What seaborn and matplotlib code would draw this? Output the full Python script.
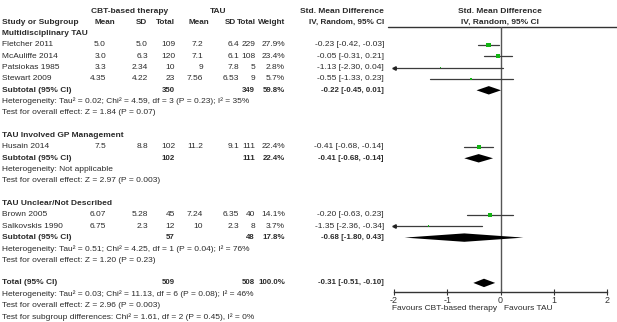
import matplotlib
matplotlib.use("Agg")
import numpy as np
import pandas as pd
import matplotlib.pyplot as plt
import seaborn as sns

# ---- data ----
studies = ["Fletcher 2011", "McAuliffe 2014", "Patsiokas 1985", "Stewart 2009",
           "Husain 2014", "Brown 2005", "Salkovskis 1990"]
study_group = [0, 0, 0, 0, 1, 2, 2]
cbt_mean = ["5.0", "3.0", "3.3", "4.35", "7.5", "6.07", "6.75"]
cbt_sd = ["5.0", "6.3", "2.34", "4.22", "8.8", "5.28", "2.3"]
cbt_n = [109, 120, 10, 23, 102, 45, 12]
tau_mean = ["7.2", "7.1", "9", "7.56", "11.2", "7.24", "10"]
tau_sd = ["6.4", "6.1", "7.8", "6.53", "9.1", "6.35", "2.3"]
tau_n = [229, 108, 5, 9, 111, 40, 8]
weight = [27.9, 23.4, 2.8, 5.7, 22.4, 14.1, 3.7]
smd = [-0.23, -0.05, -1.13, -0.55, -0.41, -0.20, -1.35]
smd_lo = [-0.42, -0.31, -2.30, -1.33, -0.68, -0.63, -2.36]
smd_hi = [-0.03, 0.21, 0.04, 0.23, -0.14, 0.23, -0.34]

groups = ["Multidisciplinary TAU", "TAU Involved GP Management", "TAU Unclear/Not Described"]
grp_cbt_n = [350, 102, 57]
grp_tau_n = [349, 111, 48]
grp_weight = [59.8, 22.4, 17.8]
grp_smd = [-0.22, -0.41, -0.68]
grp_lo = [-0.45, -0.68, -1.80]
grp_hi = [0.01, -0.14, 0.43]
grp_het = ["Heterogeneity: Tau\u00b2 = 0.02; Chi\u00b2 = 4.59, df = 3 (P = 0.23); I\u00b2 = 35%",
           "Heterogeneity: Not applicable",
           "Heterogeneity: Tau\u00b2 = 0.51; Chi\u00b2 = 4.25, df = 1 (P = 0.04); I\u00b2 = 76%"]
grp_test = ["Test for overall effect: Z = 1.84 (P = 0.07)",
            "Test for overall effect: Z = 2.97 (P = 0.003)",
            "Test for overall effect: Z = 1.20 (P = 0.23)"]

total_cbt_n, total_tau_n, total_weight = 509, 508, 100.0
total_smd, total_lo, total_hi = -0.31, -0.51, -0.10
total_het = "Heterogeneity: Tau\u00b2 = 0.03; Chi\u00b2 = 11.13, df = 6 (P = 0.08); I\u00b2 = 46%"
total_test = "Test for overall effect: Z = 2.96 (P = 0.003)"
subgroup_test = "Test for subgroup differences: Chi\u00b2 = 1.61, df = 2 (P = 0.45), I\u00b2 = 0%"

ticks = [-2, -1, 0, 1, 2]
favours_left = "Favours CBT-based therapy"
favours_right = "Favours TAU"

# ---- figure setup ----
sns.set_theme(style="white")
plt.rcParams["font.family"] = ["Liberation Sans", "DejaVu Sans"]
plt.rcParams["axes.unicode_minus"] = False

W, H = 617, 322
FS = 6.0
FSB = 5.9   # bold column headers
FSS = 5.7   # bold summary numbers
TXT = "#2b2b2b"
GREEN = "#14b414"
ROW0, ROWH = 11, 11.33
AXIS_Y = 292
X_LEFT, X_RIGHT = 394, 607


def row_y(i):
    return ROW0 + ROWH * i


fig = plt.figure(figsize=(W / 100, H / 100), dpi=100)
bg = fig.add_axes([0, 0, 1, 1])
bg.set_xlim(0, W)
bg.set_ylim(H, 0)
bg.axis("off")

fa = fig.add_axes([X_LEFT / W, 1 - AXIS_Y / H, (X_RIGHT - X_LEFT) / W, (AXIS_Y - 27) / H])
fa.set_xlim(-2, 2)
fa.set_ylim(AXIS_Y, 27)
fa.patch.set_alpha(0)


def txt(x, y, s, ha="left", bold=False, size=FS):
    bg.text(x, y, s, ha=ha, va="center", fontsize=size, color=TXT,
            fontweight="bold" if bold else "normal")


# column right edges for the table
COLS = [106, 148, 175, 203, 239, 255, 285, 384]
SUM_COLS = [175, 255, 285, 384]

# headers
txt(130, row_y(0), "CBT-based therapy", ha="center", bold=True)
txt(218, row_y(0), "TAU", ha="center", bold=True)
txt(384, row_y(0), "Std. Mean Difference", ha="right", bold=True)
txt(500, row_y(0), "Std. Mean Difference", ha="center", bold=True)
txt(2, row_y(1), "Study or Subgroup", bold=True)
for x, h in zip([115, 147, 175, 209, 236, 256, 285, 384],
                ["Mean", "SD", "Total", "Mean", "SD", "Total", "Weight", "IV, Random, 95% CI"]):
    txt(x, row_y(1), h, ha="right", bold=True, size=FSB)
txt(500, row_y(1), "IV, Random, 95% CI", ha="center", bold=True)
bg.plot([388, W], [27, 27], color="#333333", lw=1)

# rows
study_rows = []
row = 2
grp_rows = []
for g, name in enumerate(groups):
    txt(2, row_y(row), name, bold=True)
    row += 1
    for i in [k for k, sg in enumerate(study_group) if sg == g]:
        y = row_y(row)
        study_rows.append(y)
        txt(2, y, studies[i])
        vals = [cbt_mean[i], cbt_sd[i], str(cbt_n[i]), tau_mean[i], tau_sd[i], str(tau_n[i]),
                f"{weight[i]:.1f}%", f"{smd[i]:.2f} [{smd_lo[i]:.2f}, {smd_hi[i]:.2f}]"]
        for x, v in zip(COLS, vals):
            txt(x, y, v, ha="right")
        row += 1
    y = row_y(row)
    grp_rows.append(y)
    txt(2, y, "Subtotal (95% CI)", bold=True)
    for x, v in zip(SUM_COLS,
                    [str(grp_cbt_n[g]), str(grp_tau_n[g]), f"{grp_weight[g]:.1f}%",
                     f"{grp_smd[g]:.2f} [{grp_lo[g]:.2f}, {grp_hi[g]:.2f}]"]):
        txt(x, y, v, ha="right", bold=True, size=FSS)
    txt(2, row_y(row + 1), grp_het[g])
    txt(2, row_y(row + 2), grp_test[g])
    row += 4

total_y = row_y(row)
txt(2, total_y, "Total (95% CI)", bold=True)
for x, v in zip(SUM_COLS,
                [str(total_cbt_n), str(total_tau_n), f"{total_weight:.1f}%",
                 f"{total_smd:.2f} [{total_lo:.2f}, {total_hi:.2f}]"]):
    txt(x, total_y, v, ha="right", bold=True, size=FSS)
txt(2, row_y(row + 1), total_het)
txt(2, row_y(row + 2), total_test)
txt(2, row_y(row + 3), subgroup_test)

# ---- forest panel ----
df = pd.DataFrame({"smd": smd, "lo": smd_lo, "hi": smd_hi, "weight": weight, "y": study_rows})
fa.axvline(0, color="#555555", lw=1, zorder=1)
for _, r in df.iterrows():
    fa.plot([max(r.lo, -2), min(r.hi, 2)], [r.y, r.y], color="#3c3c3c", lw=0.9, zorder=2)
    if r.lo < -2:
        fa.plot([-2], [r.y], marker="<", color="#222222", ms=2.5, clip_on=False, zorder=3)
    if r.hi > 2:
        fa.plot([2], [r.y], marker=">", color="#222222", ms=2.5, clip_on=False, zorder=3)

wmin, wmax = min(weight), max(weight)
sns.scatterplot(data=df, x="smd", y="y", size="weight", sizes=(0.42 * wmin, 0.42 * wmax),
                size_norm=(wmin, wmax), marker="s", color=GREEN, edgecolor="none",
                legend=False, ax=fa, zorder=4)


def diamond(est, lo, hi, y, h=4.2):
    fa.fill([lo, est, hi, est], [y, y - h, y, y + h], color="black", lw=0, zorder=5)


for g in range(len(groups)):
    diamond(grp_smd[g], grp_lo[g], grp_hi[g], grp_rows[g])
diamond(total_smd, total_lo, total_hi, total_y)

for s in ["top", "right", "left"]:
    fa.spines[s].set_visible(False)
fa.spines["bottom"].set_color("#333333")
fa.spines["bottom"].set_linewidth(1)
fa.set_yticks([])
fa.set_xticks(ticks)
fa.set_xticklabels([str(t) for t in ticks])
fa.tick_params(axis="x", direction="inout", length=5, width=0.8, colors="#333333",
               labelsize=FS + 0.4, pad=0.5, bottom=True)
fa.set_xlabel("")
fa.set_ylabel("")

txt(497, 309, favours_left, ha="right")
txt(504, 309, favours_right)

fig.savefig("out.png", dpi=100)
